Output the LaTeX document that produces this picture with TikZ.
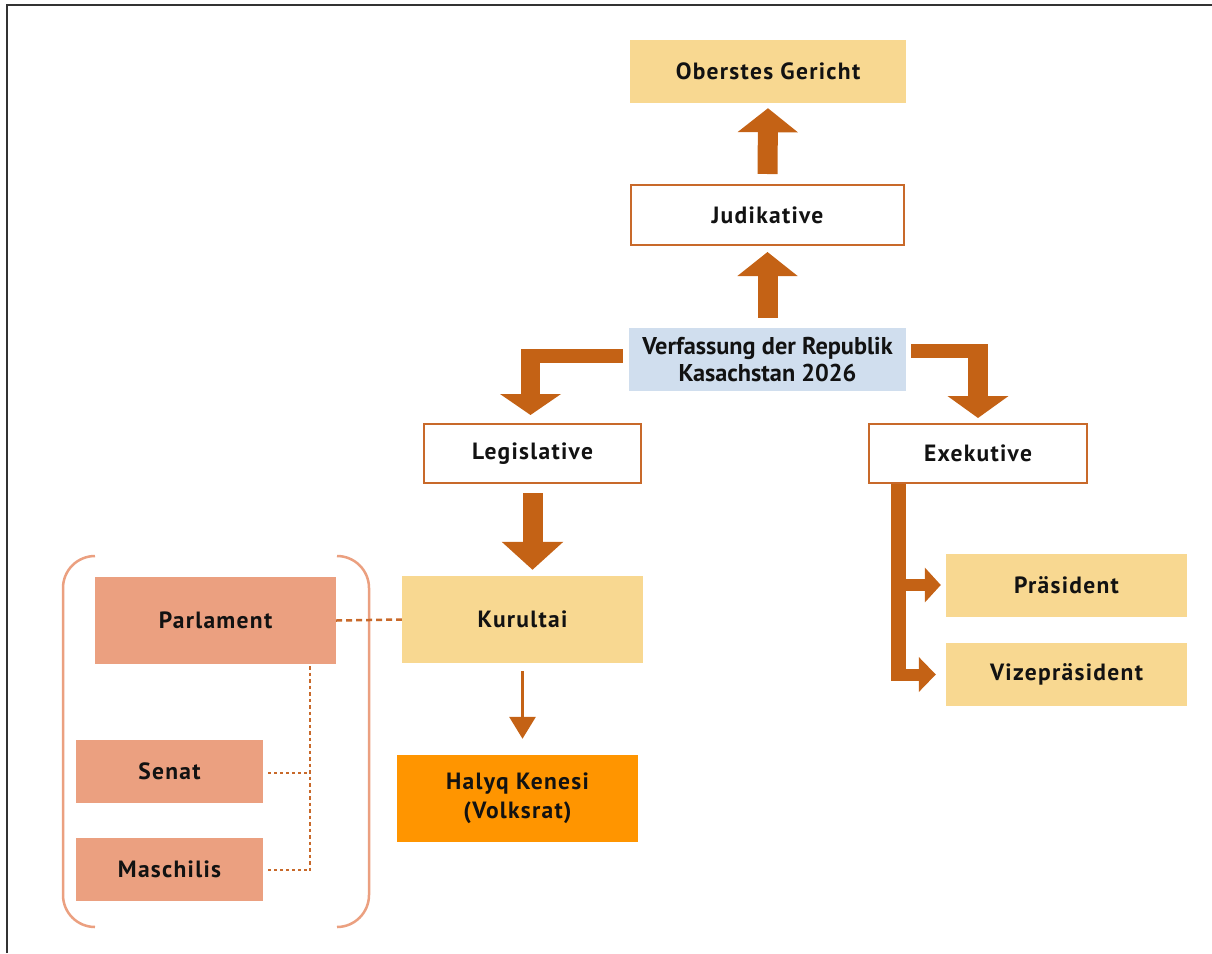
\documentclass[tikz,border=0pt]{standalone}
\usepackage{fontspec}
\setmainfont{PT Sans}
\newfontfamily\boxfont[LetterSpace=5.5]{PT Sans}
\usetikzlibrary{arrows.meta,calc}
\definecolor{arr}{HTML}{C46215}
\definecolor{bord}{HTML}{C8692A}
\definecolor{yel}{HTML}{F8D891}
\definecolor{blu}{HTML}{D0DEEE}
\definecolor{sal}{HTML}{EBA080}
\definecolor{org}{HTML}{FF9500}
\definecolor{frm}{HTML}{333333}
\tikzset{
  lbl/.style={font=\boxfont\bfseries\fontsize{23.5}{29}\selectfont, text=black!93, align=center, inner sep=0pt, anchor=center},
  yelbox/.style={lbl, fill=yel},
  salbox/.style={lbl, fill=sal},
  wbox/.style={lbl, fill=white, draw=bord, line width=2pt},
  fatup/.style={arr, line width=20pt, -{Triangle[length=24pt,width=59pt]}},
  bar/.style={draw=arr, line width=#1},
  dashc/.style={draw=bord, line width=2.5pt, dash pattern=on 6pt off 4pt},
  dotc/.style={draw=bord, line width=2.5pt, dash pattern=on 3pt off 3pt},
}
\begin{document}
\begin{tikzpicture}[x=1pt,y=-1pt]
\useasboundingbox (0,0) rectangle (1212,953);
% frame
\draw[frm, line width=1.5pt] (7,953) -- (7,5) -- (1212,5);

% nodes
\node[yelbox, minimum width=276pt, minimum height=63pt] (ober) at (768,71.5) {Oberstes Gericht};
\node[wbox, minimum width=273pt, minimum height=60pt] (jud) at (767.5,215) {Judikative};
\node[lbl, fill=blu, font=\bfseries\fontsize{24.3}{27}\selectfont, minimum width=277pt, minimum height=63pt] (verf) at (767.5,359.5) {Verfassung der Republik\\Kasachstan 2026};
\node[wbox, minimum width=217pt, minimum height=59pt] (leg) at (532.5,453.5) {Legislative};
\node[wbox, minimum width=218pt, minimum height=59pt] (exe) at (978,453.5) {Exekutive};
\node[yelbox, minimum width=241pt, minimum height=87pt] (kur) at (522.5,619.5) {Kurultai};
\node[lbl, fill=org, minimum width=241pt, minimum height=87pt] (hal) at (517.5,798.5) {Halyq Kenesi\\(Volksrat)};
\node[salbox, minimum width=241pt, minimum height=87pt] (parl) at (215.5,620.5) {Parlament};
\node[salbox, minimum width=187pt, minimum height=63pt] (senat) at (169.5,771.5) {Senat};
\node[salbox, minimum width=187pt, minimum height=63pt] (masch) at (169.5,869.5) {Maschilis};
\node[yelbox, minimum width=241pt, minimum height=63pt] (pras) at (1066.5,585.5) {Präsident};
\node[yelbox, minimum width=241pt, minimum height=63pt] (vize) at (1066.5,674.5) {Vizepräsident};

% bracket
\draw[sal, line width=2.5pt, rounded corners=32pt] (95,556) -- (63,556) -- (63,927) -- (95,927);
\draw[sal, line width=2.5pt, rounded corners=32pt] (337,556) -- (369,556) -- (369,927) -- (337,927);

% fat arrows up
\draw[fatup, shorten <=10pt, shorten >=5pt] (jud.north) -- (ober.south);
\draw[fatup, shorten <=10pt, shorten >=6pt] (verf.north) -- (jud.south);

% left elbow
\coordinate (lcor) at ($(verf.west -| leg.north)+(-2,-3.5)$);
\draw[bar=14pt] ($(verf.west)+(-6,-3.5)$) -- ($(lcor)+(-9.5,0)$);
\draw[arr, line width=19pt, -{Triangle[length=21pt,width=60pt]}, shorten >=8pt] ($(lcor)+(0,-7)$) -- ($(leg.north)+(-2,0)$);

% right elbow
\coordinate (rcor) at ($(verf.east -| exe.north)+(0,-8.5)$);
\draw[bar=14pt] ($(verf.east)+(5,-8.5)$) -- ($(rcor)+(10,0)$);
\draw[arr, line width=20pt, -{Triangle[length=22pt,width=60pt]}, shorten >=5pt] ($(rcor)+(0,-7)$) -- (exe.north);

% legislative -> kurultai
\draw[arr, line width=20pt, -{Triangle[length=28pt,width=60pt]}, shorten <=9pt, shorten >=6pt] (leg.south) -- (leg.south |- kur.north);

% kurultai -> halyq
\draw[arr, line width=3pt, -{Triangle[length=22pt,width=26pt]}, shorten <=8pt, shorten >=16pt] (kur.south) -- (kur.south |- hal.north);

% executive branches
\coordinate (etop) at ($(exe.south west)+(30.5,0)$);
\coordinate (ebot) at (etop |- vize.west);
\draw[bar=15pt] (etop) -- ($(ebot)+(0,6.5)$);
\draw[arr, line width=12pt, -{Triangle[length=16pt,width=34pt]}, shorten >=5pt] ($(etop |- pras.west)+(0,-0.5)$) -- ($(pras.west)+(0,-0.5)$);
\draw[arr, line width=12pt, -{Triangle[length=17pt,width=34pt]}, shorten >=10pt] (ebot) -- (vize.west);

% parliament connectors
\draw[dashc] (parl.east) -- (kur.west);
\coordinate (pv) at ($(parl.south east)+(-26,2)$);
\coordinate (pvb) at (pv |- masch.east);
\draw[bord, line width=2.5pt, dash pattern=on 3.5pt off 3pt] (pv) -- ($(pvb)+(0,1)$);
\draw[dotc] ($(senat.east)+(5,1.5)$) -- (pv |- {$(senat.east)+(0,1.5)$});
\draw[dotc] ($(masch.east)+(5,0.5)$) -- (pv |- {$(masch.east)+(0,0.5)$});
\end{tikzpicture}
\end{document}
